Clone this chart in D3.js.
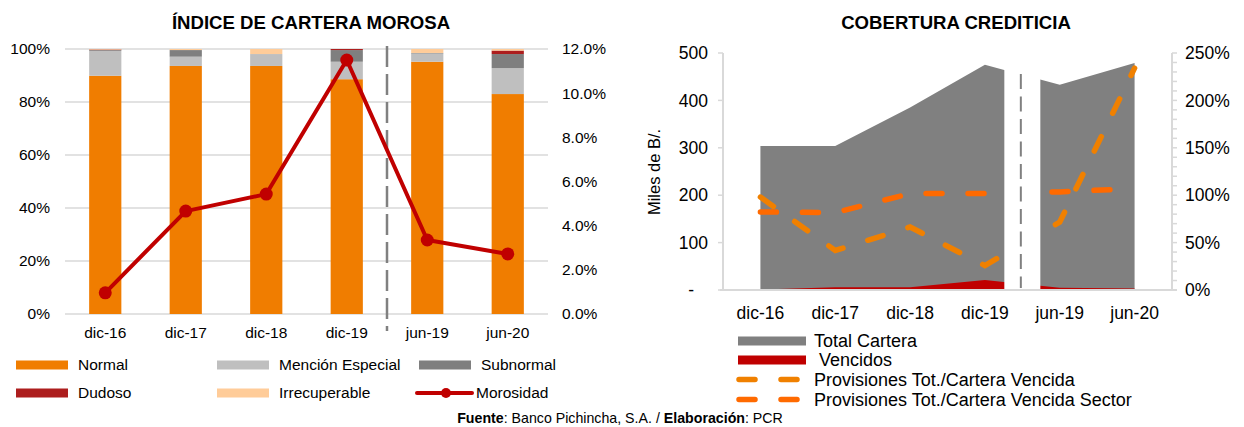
<!DOCTYPE html>
<html>
<head>
<meta charset="utf-8">
<script src="https://cdn.jsdelivr.net/npm/d3@7"></script>
<style>
  html, body { margin: 0; padding: 0; background: #ffffff; }
  svg { display: block; font-family: "Liberation Sans", Arial, sans-serif; }
</style>
</head>
<body>
<svg id="chart" width="1244" height="427"></svg>
<script>
// ---- Índice de cartera morosa (composición %) ----
const periodos = ["dic-16", "dic-17", "dic-18", "dic-19", "jun-19", "jun-20"];
const normal = [89.9, 93.6, 93.6, 88.6, 95.2, 83.0];
const mencionEspecial = [9.4, 3.5, 4.5, 6.6, 3.1, 9.8];
const subnormal = [0.3, 2.5, 0.0, 4.4, 0.2, 5.3];
const dudoso = [0.2, 0.0, 0.0, 0.4, 0.0, 1.3];
const irrecuperable = [0.2, 0.4, 1.9, 0.0, 1.5, 0.6];
const morosidad = [0.96, 4.66, 5.43, 11.5, 3.35, 2.72];
const ticksPct = [0, 20, 40, 60, 80, 100];
const ticksMorosidad = [0, 2, 4, 6, 8, 10, 12];

// ---- Cobertura crediticia ----
const totalCartera = [304, 304, 385, 475, 433, 479];
const vencidos = [1, 6, 6, 21, 5, 3];
const provisiones = [98, 41.7, 66.4, 25.8, 71.7, 234];
const provisionesSector = [82.3, 81.6, 101.7, 101.7, 103.5, 107];
const ticksMiles = [0, 100, 200, 300, 400, 500];
const ticksCobertura = [0, 50, 100, 150, 200, 250];

const svg = d3.select("#chart");

// =============== Left chart ===============
const L = { x0: 65, x1: 548, y0: 314, y1: 49 };
const xL = d3.scaleBand().domain(periodos).range([L.x0, L.x1]).paddingInner(0.6).paddingOuter(0.3);
const yL = d3.scaleLinear().domain([0, 100]).range([L.y0, L.y1]);
const yR = d3.scaleLinear().domain([0, 12]).range([L.y0, L.y1]);

svg.append("text").attr("x", 311).attr("y", 29).attr("text-anchor", "middle")
  .attr("font-size", 18.6).attr("font-weight", "bold").attr("fill", "#000")
  .text("ÍNDICE DE CARTERA MOROSA");

// gridlines
svg.append("g").selectAll("line").data(ticksPct).join("line")
  .attr("x1", L.x0).attr("x2", L.x1)
  .attr("y1", d => yL(d)).attr("y2", d => yL(d))
  .attr("stroke", "#d9d9d9").attr("stroke-width", 1.5);

// left axis labels
svg.append("g").selectAll("text").data(ticksPct).join("text")
  .attr("x", 50).attr("y", d => yL(d)).attr("dy", "0.35em")
  .attr("text-anchor", "end").attr("font-size", 15.5).attr("fill", "#000")
  .text(d => d + "%");

// right axis labels
svg.append("g").selectAll("text").data(ticksMorosidad).join("text")
  .attr("x", 562).attr("y", d => yR(d)).attr("dy", "0.35em")
  .attr("text-anchor", "start").attr("font-size", 15.5).attr("fill", "#000")
  .text(d => d.toFixed(1) + "%");

// x axis labels
svg.append("g").selectAll("text").data(periodos).join("text")
  .attr("x", d => xL(d) + xL.bandwidth() / 2).attr("y", 333).attr("dy", "0.35em")
  .attr("text-anchor", "middle").attr("font-size", 15.5).attr("fill", "#000")
  .text(d => d);

// stacked bars
const categorias = [
  { key: "normal", nombre: "Normal", valores: normal, color: "#f07d00" },
  { key: "me", nombre: "Mención Especial", valores: mencionEspecial, color: "#bfbfbf" },
  { key: "sub", nombre: "Subnormal", valores: subnormal, color: "#7f7f7f" },
  { key: "dud", nombre: "Dudoso", valores: dudoso, color: "#ad1e1e" },
  { key: "irr", nombre: "Irrecuperable", valores: irrecuperable, color: "#ffcc99" }
];
const filas = periodos.map((p, i) => {
  const o = { periodo: p };
  categorias.forEach(c => { o[c.key] = c.valores[i]; });
  return o;
});
const stack = d3.stack().keys(categorias.map(c => c.key))(filas);
svg.append("g").selectAll("g").data(stack).join("g")
  .attr("fill", (d, i) => categorias[i].color)
  .selectAll("rect").data(d => d).join("rect")
  .attr("x", d => xL(d.data.periodo))
  .attr("width", xL.bandwidth())
  .attr("y", d => yL(d[1]))
  .attr("height", d => Math.max(0, yL(d[0]) - yL(d[1])));

// separator between annual and semester periods
const sepL = (xL("dic-19") + xL.bandwidth() + xL("jun-19")) / 2;
svg.append("line").attr("x1", sepL).attr("x2", sepL).attr("y1", 46).attr("y2", 331)
  .attr("stroke", "#808080").attr("stroke-width", 2.5).attr("stroke-dasharray", "21,7");

// morosidad line
const lineMor = d3.line().x((d, i) => xL(periodos[i]) + xL.bandwidth() / 2).y(d => yR(d));
svg.append("path").datum(morosidad).attr("d", lineMor)
  .attr("fill", "none").attr("stroke", "#c00000").attr("stroke-width", 4).attr("stroke-linejoin", "round");
svg.append("g").selectAll("circle").data(morosidad).join("circle")
  .attr("cx", (d, i) => xL(periodos[i]) + xL.bandwidth() / 2).attr("cy", d => yR(d))
  .attr("r", 6.5).attr("fill", "#c00000");

// left legend
const legL = [
  { nombre: "Normal", color: "#f07d00", x: 16, y: 365 },
  { nombre: "Mención Especial", color: "#bfbfbf", x: 217, y: 365 },
  { nombre: "Subnormal", color: "#7f7f7f", x: 419, y: 365 },
  { nombre: "Dudoso", color: "#ad1e1e", x: 16, y: 393 },
  { nombre: "Irrecuperable", color: "#ffcc99", x: 217, y: 393 }
];
const gl = svg.append("g");
legL.forEach(d => {
  gl.append("rect").attr("x", d.x).attr("y", d.y - 4.5).attr("width", 52).attr("height", 9).attr("fill", d.color);
  gl.append("text").attr("x", d.x + 62).attr("y", d.y).attr("dy", "0.35em")
    .attr("font-size", 15.5).attr("fill", "#000").text(d.nombre);
});
gl.append("line").attr("x1", 417).attr("x2", 472).attr("y1", 393).attr("y2", 393)
  .attr("stroke", "#c00000").attr("stroke-width", 4).attr("stroke-linecap", "round");
gl.append("circle").attr("cx", 446).attr("cy", 393).attr("r", 5).attr("fill", "#c00000");
gl.append("text").attr("x", 476).attr("y", 393).attr("dy", "0.35em")
  .attr("font-size", 15.5).attr("fill", "#000").text("Morosidad");

// =============== Right chart ===============
const R = { x0: 723, x1: 1172, y0: 290, y1: 53 };
const xC = d3.scaleBand().domain(periodos).range([R.x0, R.x1]);
const px = p => xC(p) + xC.bandwidth() / 2;
const yM = d3.scaleLinear().domain([0, 500]).range([R.y0, R.y1]);
const yP = d3.scaleLinear().domain([0, 250]).range([R.y0, R.y1]);

svg.append("text").attr("x", 956).attr("y", 29).attr("text-anchor", "middle")
  .attr("font-size", 18.6).attr("font-weight", "bold").attr("fill", "#000")
  .text("COBERTURA CREDITICIA");

// areas
const areaM = d3.area().x((d, i) => px(periodos[i])).y0(yM(0)).y1(d => yM(d));
svg.append("path").datum(totalCartera).attr("d", areaM).attr("fill", "#808080");
svg.append("path").datum(vencidos).attr("d", areaM).attr("fill", "#c00000");

// coverage lines
const lineP = d3.line().x((d, i) => px(periodos[i])).y(d => yP(d));
svg.append("path").datum(provisionesSector).attr("d", lineP)
  .attr("fill", "none").attr("stroke", "#ff6a00").attr("stroke-width", 5.5)
  .attr("stroke-dasharray", "16,26").attr("stroke-linecap", "round");
svg.append("path").datum(provisiones).attr("d", lineP)
  .attr("fill", "none").attr("stroke", "#f08000").attr("stroke-width", 5.5)
  .attr("stroke-dasharray", "16,26").attr("stroke-linecap", "round");

// break between dic-19 and jun-19
const gapX = (px("dic-19") + px("jun-19")) / 2;
svg.append("rect").attr("x", gapX - 18).attr("y", 45).attr("width", 36).attr("height", yM(0) - 46).attr("fill", "#fff");
svg.append("line").attr("x1", gapX - 1.5).attr("x2", gapX - 1.5).attr("y1", 74).attr("y2", 288)
  .attr("stroke", "#808080").attr("stroke-width", 2).attr("stroke-dasharray", "15,7.5");

// axes lines
const axC = "#d9d9d9";
svg.append("line").attr("x1", R.x0 - 3).attr("x2", R.x1 + 5).attr("y1", R.y0).attr("y2", R.y0)
  .attr("stroke", axC).attr("stroke-width", 2);
svg.append("line").attr("x1", R.x0).attr("x2", R.x0).attr("y1", R.y1).attr("y2", R.y0)
  .attr("stroke", axC).attr("stroke-width", 2);
svg.append("line").attr("x1", R.x1).attr("x2", R.x1).attr("y1", R.y1).attr("y2", R.y0)
  .attr("stroke", axC).attr("stroke-width", 2);
svg.append("g").selectAll("line").data(ticksMiles).join("line")
  .attr("x1", R.x0 - 5).attr("x2", R.x0).attr("y1", d => yM(d)).attr("y2", d => yM(d))
  .attr("stroke", axC).attr("stroke-width", 1.5);
svg.append("g").selectAll("line").data(d3.range(0, 251, 10)).join("line")
  .attr("x1", R.x1).attr("x2", R.x1 + 5).attr("y1", d => yP(d)).attr("y2", d => yP(d))
  .attr("stroke", axC).attr("stroke-width", 1.5);

// axis labels
svg.append("g").selectAll("text").data(ticksMiles).join("text")
  .attr("x", d => d === 0 ? 694 : 708).attr("y", d => yM(d)).attr("dy", "0.35em")
  .attr("text-anchor", "end").attr("font-size", 17.5).attr("fill", "#000")
  .text(d => d === 0 ? "-" : d);
svg.append("g").selectAll("text").data(ticksCobertura).join("text")
  .attr("x", 1185).attr("y", d => yP(d)).attr("dy", "0.35em")
  .attr("text-anchor", "start").attr("font-size", 17.5).attr("fill", "#000")
  .text(d => d + "%");
svg.append("g").selectAll("text").data(periodos).join("text")
  .attr("x", d => px(d)).attr("y", 313).attr("dy", "0.35em")
  .attr("text-anchor", "middle").attr("font-size", 17.5).attr("fill", "#000")
  .text(d => d);
svg.append("text").attr("transform", "translate(660,172) rotate(-90)")
  .attr("text-anchor", "middle").attr("font-size", 16.5).attr("fill", "#000")
  .text("Miles de B/.");

// right legend
const gr = svg.append("g");
gr.append("rect").attr("x", 738).attr("y", 336.5).attr("width", 68).attr("height", 9).attr("fill", "#808080");
gr.append("text").attr("x", 814).attr("y", 341).attr("dy", "0.35em").attr("font-size", 18).text("Total Cartera");
gr.append("rect").attr("x", 738).attr("y", 355.5).attr("width", 68).attr("height", 9).attr("fill", "#c00000");
gr.append("text").attr("x", 814).attr("y", 360).attr("dy", "0.35em").attr("font-size", 18).attr("xml:space", "preserve").text(" Vencidos");
[{ t: "Provisiones Tot./Cartera Vencida", c: "#f08000", y: 379.5 },
 { t: "Provisiones Tot./Cartera Vencida Sector", c: "#ff6a00", y: 399.5 }].forEach(d => {
  gr.append("line").attr("x1", 739).attr("x2", 801).attr("y1", d.y).attr("y2", d.y)
    .attr("stroke", d.c).attr("stroke-width", 5.5).attr("stroke-linecap", "round")
    .attr("stroke-dasharray", "16,26");
  gr.append("text").attr("x", 814).attr("y", d.y).attr("dy", "0.35em").attr("font-size", 18).text(d.t);
});

// source note
const src = svg.append("text").attr("x", 620).attr("y", 423).attr("text-anchor", "middle").attr("font-size", 14.2).attr("fill", "#000");
src.append("tspan").attr("font-weight", "bold").text("Fuente");
src.append("tspan").text(": Banco Pichincha, S.A. / ");
src.append("tspan").attr("font-weight", "bold").text("Elaboración");
src.append("tspan").text(": PCR");
</script>
</body>
</html>
